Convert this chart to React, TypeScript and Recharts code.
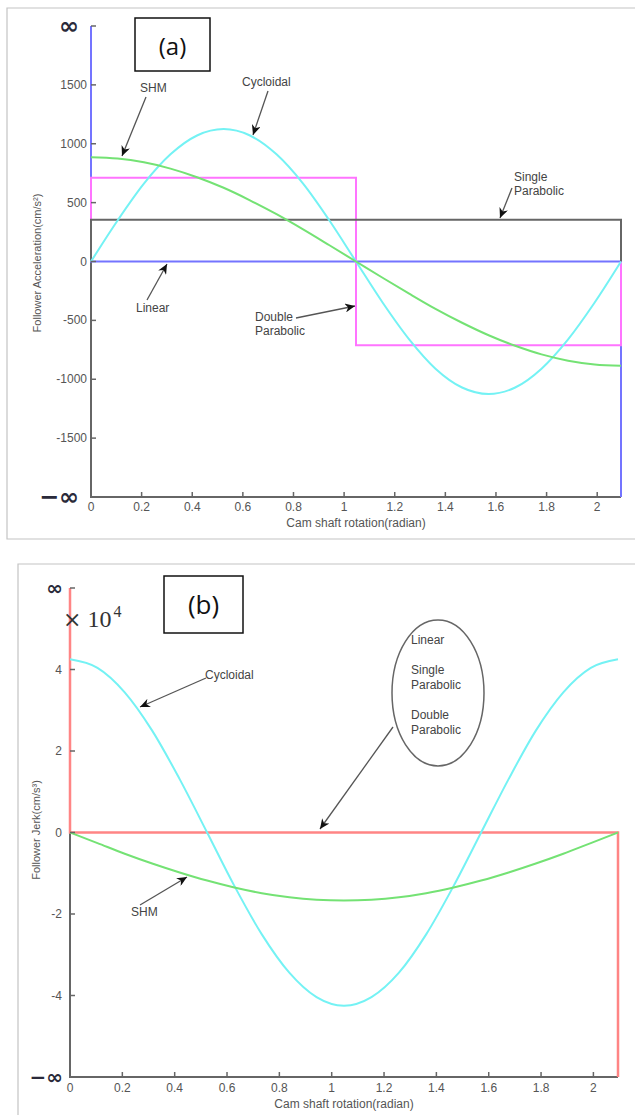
import { ComposedChart, Line, XAxis, YAxis } from "recharts";

// cam shaft rotation samples (radian), rise over 2π/3
const theta = [
  0, 0.105, 0.209, 0.314, 0.419, 0.524, 0.628, 0.733, 0.838, 0.942, 1.047,
  1.152, 1.257, 1.361, 1.466, 1.571, 1.676, 1.78, 1.885, 1.99, 2.094,
];
const xTicks = [0, 0.2, 0.4, 0.6, 0.8, 1, 1.2, 1.4, 1.6, 1.8, 2];

// (a) follower acceleration, cm/s²
const cycloidalAcc = [
  0, 348, 661, 910, 1070, 1125, 1070, 910, 661, 348, 0, -348, -661, -910,
  -1070, -1125, -1070, -910, -661, -348, 0,
];
const shmAcc = [
  885, 874, 842, 789, 716, 626, 520, 402, 273, 138, 0, -138, -273, -402, -520,
  -626, -716, -789, -842, -874, -885,
];
const linearAccX = [0, 0, 2.094, 2.094];
const linearAccY = [2000, 0, 0, -2000];
const doubleParX = [0, 0, 1.047, 1.047, 2.094, 2.094];
const doubleParY = [0, 712, 712, -712, -712, 0];
const singleParX = [0, 0, 2.094, 2.094];
const singleParY = [0, 355, 355, 0];
const accTicks = [-2000, -1500, -1000, -500, 0, 500, 1000, 1500, 2000];
// axis frame (left + bottom), drawn under the curves
const frameAX = [0, 0, 2.094];
const frameAY = [2000, -2000, -2000];

// (b) follower jerk, ×10⁴ cm/s³
const cycloidalJerk = [
  4.25, 4.04, 3.44, 2.5, 1.31, 0, -1.31, -2.5, -3.44, -4.04, -4.25, -4.04,
  -3.44, -2.5, -1.31, 0, 1.31, 2.5, 3.44, 4.04, 4.25,
];
const shmJerk = [
  0, -0.26, -0.52, -0.76, -0.98, -1.18, -1.35, -1.49, -1.59, -1.65, -1.67,
  -1.65, -1.59, -1.49, -1.35, -1.18, -0.98, -0.76, -0.52, -0.26, 0,
];
const flatJerkX = [0, 0, 2.094, 2.094];
const flatJerkY = [6, 0, 0, -6];
const jerkTicks = [-6, -4, -2, 0, 2, 4, 6];
const frameBX = [0, 0, 2.094];
const frameBY = [6, -6, -6];

const pts = (xs: number[], ys: number[]) => xs.map((x, i) => ({ x, y: ys[i] }));

const CYAN = "#74f2f4";
const GREEN = "#74e274";
const MAGENTA = "#ff74ff";
const BLUE = "#7474ff";
const GRAY = "#666";
const RED = "#ff8585";
const TICK_FONT = "'Liberation Sans', Arial, sans-serif";

function makeYTick(axisX: number, gap: number, infGap: number, infSize: number) {
  return (props: any) => {
    const { y, payload, index, visibleTicksCount } = props;
    const last = index === visibleTicksCount - 1;
    const first = index === 0;
    const inf = first || last;
    return (
      <g>
        {!first && (
          <line x1={axisX} x2={axisX + 5} y1={y} y2={y} stroke={GRAY} strokeWidth={1.5} />
        )}
        {inf ? (
          <text
            x={axisX - infGap}
            y={y}
            textAnchor="end"
            dominantBaseline="central"
            fontFamily="'DejaVu Sans', sans-serif"
            fontWeight="bold"
            fontSize={infSize}
            fill="#2a2a3a"
          >
            {last ? "∞" : "−∞"}
          </text>
        ) : (
          <text
            x={axisX - gap}
            y={y}
            textAnchor="end"
            dominantBaseline="central"
            fontFamily={TICK_FONT}
            fontSize={12}
            fill="#555"
          >
            {payload.value}
          </text>
        )}
      </g>
    );
  };
}

function makeXTick(axisY: number, gap: number) {
  return (props: any) => {
    const { x, payload, index } = props;
    return (
      <g>
        {index > 0 && (
          <line x1={x} x2={x} y1={axisY} y2={axisY - 5} stroke={GRAY} strokeWidth={1.5} />
        )}
        <text
          x={x}
          y={axisY + gap}
          textAnchor="middle"
          dominantBaseline="central"
          fontFamily={TICK_FONT}
          fontSize={12}
          fill="#555"
        >
          {payload.value}
        </text>
      </g>
    );
  };
}

function Arrow({ x1, y1, x2, y2 }: { x1: number; y1: number; x2: number; y2: number }) {
  return <line x1={x1} y1={y1} x2={x2} y2={y2} stroke="#555" strokeWidth={1.3} markerEnd="url(#head)" />;
}

const note = { fontFamily: TICK_FONT, fontSize: 12, fill: "#444" } as const;

const line = (key: string, d: { x: number; y: number }[], color: string, curve = false, w = 2) => (
  <Line
    key={key}
    data={d}
    dataKey="y"
    type={curve ? "monotone" : "linear"}
    stroke={color}
    strokeWidth={w}
    dot={false}
    activeDot={false}
    isAnimationActive={false}
  />
);

export default function App() {
  return (
    <div style={{ position: "absolute", left: 0, top: 0, width: 635, height: 1115, background: "#fff", overflow: "hidden" }}>
      <div style={{ position: "absolute", left: 0, top: 0 }}>
        <ComposedChart width={635} height={540} margin={{ top: 26, right: 14, left: 0, bottom: 0 }}>
          <XAxis
            dataKey="x"
            type="number"
            domain={[0, 2.094]}
            ticks={xTicks}
            interval={0}
            height={43}
            tickLine={false}
            axisLine={false}
            tick={makeXTick(497, 10)}
          />
          <YAxis
            type="number"
            domain={[-2000, 2000]}
            ticks={accTicks}
            interval={0}
            width={91}
            tickLine={false}
            axisLine={false}
            tick={makeYTick(91, 4, 12, 24)}
          />
          {line("frame", pts(frameAX, frameAY), GRAY, false, 2)}
          {line("linear", pts(linearAccX, linearAccY), BLUE)}
          {line("double", pts(doubleParX, doubleParY), MAGENTA)}
          {line("single", pts(singleParX, singleParY), GRAY)}
          {line("cyc", pts(theta, cycloidalAcc), CYAN, true)}
          {line("shm", pts(theta, shmAcc), GREEN, true)}
        </ComposedChart>
      </div>

      <div style={{ position: "absolute", left: 0, top: 560 }}>
        <ComposedChart width={635} height={555} margin={{ top: 28, right: 17, left: 0, bottom: 0 }}>
          <XAxis
            dataKey="x"
            type="number"
            domain={[0, 2.094]}
            ticks={xTicks}
            interval={0}
            height={38}
            tickLine={false}
            axisLine={false}
            tick={makeXTick(517, 11)}
          />
          <YAxis
            type="number"
            domain={[-6, 6]}
            ticks={jerkTicks}
            interval={0}
            width={70}
            tickLine={false}
            axisLine={false}
            tick={makeYTick(70, 8, 7, 20)}
          />
          {line("frame", pts(frameBX, frameBY), GRAY, false, 2)}
          {line("flat", pts(flatJerkX, flatJerkY), RED, false, 2.5)}
          {line("cyc", pts(theta, cycloidalJerk), CYAN, true)}
          {line("shm", pts(theta, shmJerk), GREEN, true)}
        </ComposedChart>
      </div>

      <svg width={635} height={1115} style={{ position: "absolute", left: 0, top: 0, pointerEvents: "none" }}>
        <defs>
          <marker id="head" markerUnits="userSpaceOnUse" markerWidth={11} markerHeight={9} refX={10} refY={4.5} orient="auto">
            <path d="M0,0 L10,4.5 L0,9 L3,4.5 Z" fill="#111" />
          </marker>
        </defs>

        {/* frames */}
        <path d="M636,8 H7 V539 H636" fill="none" stroke="#c4c4c4" strokeWidth={1.2} />
        <path d="M636,564 H18 V1116" fill="none" stroke="#c4c4c4" strokeWidth={1.2} />

        {/* (a) */}
        <rect x={135} y={18} width={75} height={53} fill="#fff" stroke="#111" strokeWidth={1.5} />
        <text x={172.5} y={45} textAnchor="middle" dominantBaseline="central" fontFamily="'Open Sans', sans-serif" fontSize={24} fill="#111">(a)</text>
        <text transform="translate(37,263) rotate(-90)" textAnchor="middle" dominantBaseline="central" fontFamily={TICK_FONT} fontSize={11} fill="#555">
          Follower Acceleration(cm/s²)
        </text>
        <text x={356} y={523} textAnchor="middle" dominantBaseline="central" fontFamily={TICK_FONT} fontSize={12} fill="#555">
          Cam shaft rotation(radian)
        </text>

        <text x={140} y={88} dominantBaseline="central" {...note}>SHM</text>
        <Arrow x1={146} y1={97} x2={122} y2={156} />
        <text x={242} y={82} dominantBaseline="central" {...note}>Cycloidal</text>
        <Arrow x1={268} y1={91} x2={253} y2={135} />
        <text x={514} y={177} dominantBaseline="central" {...note}>Single</text>
        <text x={514} y={191} dominantBaseline="central" {...note}>Parabolic</text>
        <Arrow x1={512} y1={188} x2={500} y2={218} />
        <text x={136} y={308} dominantBaseline="central" {...note}>Linear</text>
        <Arrow x1={147} y1={300} x2={167} y2={264} />
        <text x={255} y={317} dominantBaseline="central" {...note}>Double</text>
        <text x={255} y={331} dominantBaseline="central" {...note}>Parabolic</text>
        <Arrow x1={296} y1={318} x2={355} y2={306} />

        {/* (b) */}
        <rect x={164} y={576} width={79} height={57} fill="#fff" stroke="#111" strokeWidth={1.5} />
        <text x={203.5} y={604} textAnchor="middle" dominantBaseline="central" fontFamily="'Open Sans', sans-serif" fontSize={26} fill="#111">(b)</text>
        <text x={63} y={627} fontFamily="'DejaVu Serif', serif" fontSize={22} fill="#333">
          ×<tspan dx={6} fontFamily="'Liberation Serif', serif" fontSize={24}>10</tspan>
          <tspan dx={2} dy={-10} fontFamily="'Liberation Serif', serif" fontSize={16}>4</tspan>
        </text>
        <text transform="translate(36,830) rotate(-90)" textAnchor="middle" dominantBaseline="central" fontFamily={TICK_FONT} fontSize={11} fill="#555">
          Follower Jerk(cm/s³)
        </text>
        <text x={344} y={1104} textAnchor="middle" dominantBaseline="central" fontFamily={TICK_FONT} fontSize={12} fill="#555">
          Cam shaft rotation(radian)
        </text>

        <text x={205} y={675} dominantBaseline="central" {...note}>Cycloidal</text>
        <Arrow x1={206} y1={678} x2={140} y2={707} />
        <ellipse cx={438} cy={693} rx={46} ry={73} fill="none" stroke="#666" strokeWidth={1.5} />
        <text x={411} y={640} dominantBaseline="central" {...note}>Linear</text>
        <text x={411} y={670} dominantBaseline="central" {...note}>Single</text>
        <text x={411} y={685} dominantBaseline="central" {...note}>Parabolic</text>
        <text x={411} y={715} dominantBaseline="central" {...note}>Double</text>
        <text x={411} y={730} dominantBaseline="central" {...note}>Parabolic</text>
        <Arrow x1={393} y1={727} x2={320} y2={829} />
        <text x={131} y={912} dominantBaseline="central" {...note}>SHM</text>
        <Arrow x1={140} y1={905} x2={187} y2={877} />
      </svg>
    </div>
  );
}
